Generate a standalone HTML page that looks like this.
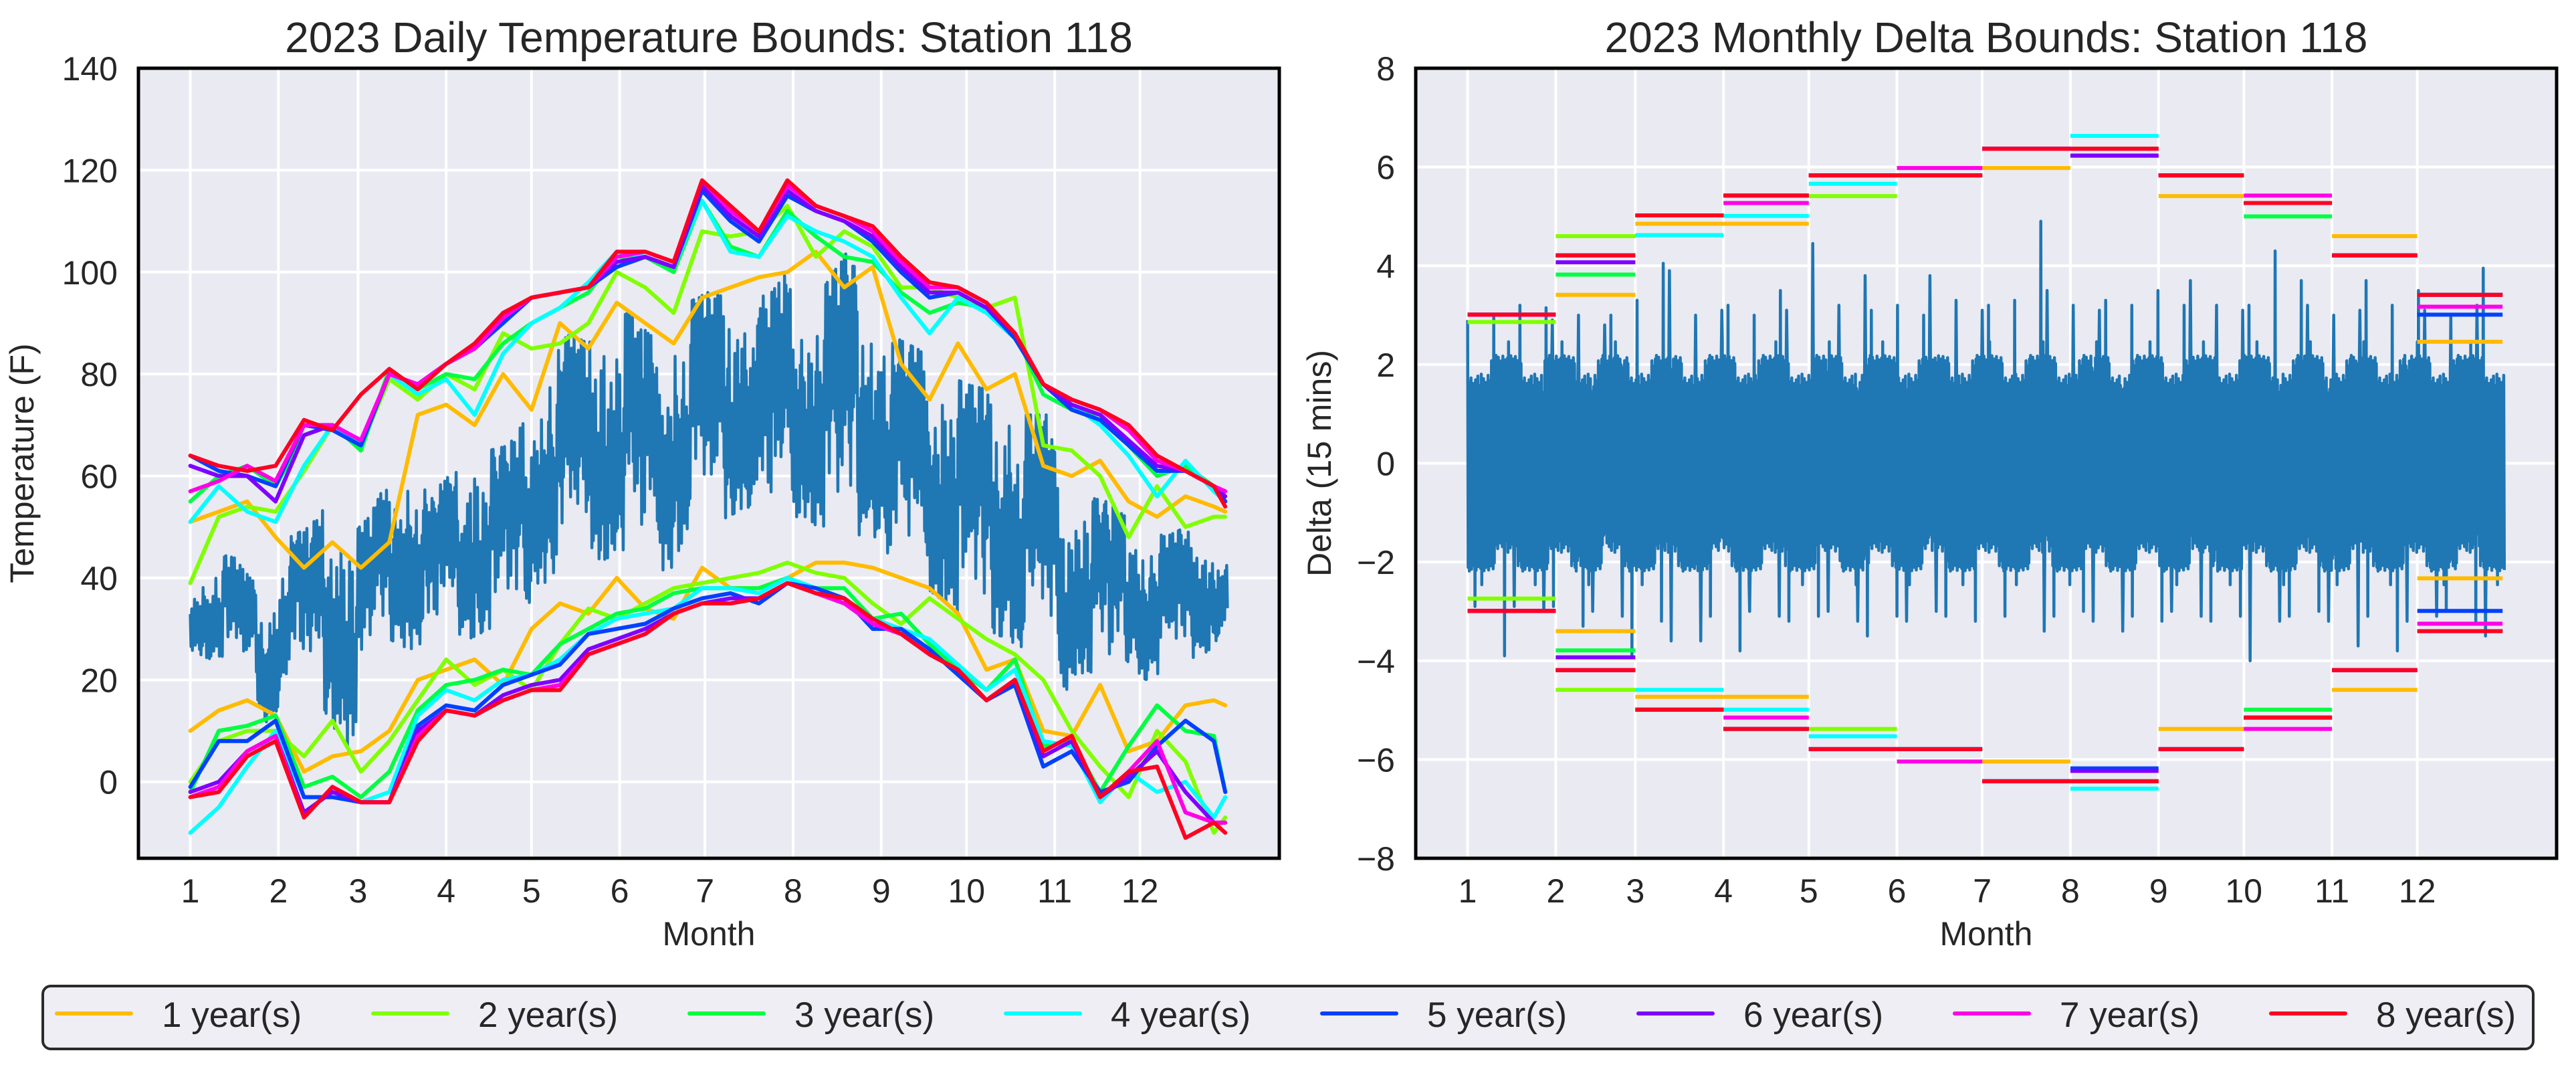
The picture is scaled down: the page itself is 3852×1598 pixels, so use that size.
<!DOCTYPE html>
<html><head><meta charset="utf-8"><title>Station 118 Bounds</title>
<style>
html,body{margin:0;padding:0;background:#fff;}
svg{display:block;font-family:"Liberation Sans",Arial,sans-serif;}
</style></head>
<body>
<svg id="fig" xmlns="http://www.w3.org/2000/svg" width="3852" height="1598" viewBox="0 0 3852 1598">
<rect x="0" y="0" width="3852" height="1598" fill="#ffffff"/>
<g id="left"></g>
<g id="right"></g>
<g id="legend"></g>
</svg>
<script>
// ---------- data ----------
const monthStartDays = [0,31,59,90,120,151,181,212,243,273,304,334];
const monthLabels = ["1","2","3","4","5","6","7","8","9","10","11","12"];
const seriesNames = ["1 year(s)","2 year(s)","3 year(s)","4 year(s)","5 year(s)","6 year(s)","7 year(s)","8 year(s)"];
const tempTicks = [0,20,40,60,80,100,120,140];
const deltaTicks = [-8,-6,-4,-2,0,2,4,6,8];
// weekly envelope of 15-min temperatures (day 0,7,...,364)
const tempHigh = [38,42,45,40,36,48,50,55,48,52,60,62,56,60,62,65,66,72,82,88,86,90,92,88,85,94,96,95,98,95,100,92,98,104,96,88,86,84,80,78,77,76,72,72,55,56,55,52,50,48,50,48,44];
const tempLow  = [26,24,25,20,10,22,20,12,6,24,28,26,27,30,28,30,32,35,40,44,42,44,46,45,40,50,50,52,54,50,52,52,48,46,50,45,42,38,35,32,30,28,26,25,18,22,20,24,20,22,24,25,30];
// bound lines sampled at days 0,10,...,360,364
const boundDays = [0,10,20,30,40,50,60,70,80,90,100,110,120,130,140,150,160,170,180,190,200,210,220,230,240,250,260,270,280,290,300,310,320,330,340,350,360,364];
const upper1 = [51,53,55,48,42,47,42,47,72,74,70,80,73,90,85,94,90,86,95,97,99,100,104,97,101,82,75,86,77,80,62,60,63,55,52,56,54,53];
const upper2 = [39,52,54,53,61,70,66,79,75,80,77,88,85,86,90,100,97,92,108,107,108,113,103,108,105,97,97,95,93,95,66,65,60,48,58,50,52,52];
const upper3 = [55,60,62,58,68,70,65,81,77,80,79,86,90,93,96,103,103,100,114,105,103,112,107,103,102,96,92,94,93,88,76,73,72,66,60,62,58,56];
const upper4 = [51,58,53,51,62,70,66,80,76,79,72,84,90,93,98,104,103,101,114,104,103,111,108,106,103,95,88,95,92,87,78,74,70,64,56,63,57,55];
const upper5 = [64,61,60,58,70,69,66,80,78,82,85,90,95,96,97,101,103,101,116,110,106,115,112,110,106,100,95,96,93,87,78,73,71,66,61,61,58,55];
const upper6 = [62,60,60,55,68,70,67,80,78,82,85,91,95,96,97,102,103,101,117,111,107,116,112,110,107,101,96,96,93,88,78,74,72,67,62,61,58,56];
const upper7 = [57,59,62,59,70,70,67,80,78,82,85,91,95,96,97,103,104,102,118,112,108,117,113,111,108,102,97,97,94,88,78,75,73,69,63,61,58,57];
const upper8 = [64,62,61,62,71,69,76,81,77,82,86,92,95,96,97,104,104,102,118,113,108,118,113,111,109,103,98,97,94,88,78,75,73,70,64,61,58,54];
const lower1 = [10,14,16,13,2,5,6,10,20,22,24,19,30,35,33,40,34,32,42,38,38,40,43,43,42,40,38,33,22,24,10,9,19,6,8,15,16,15];
const lower2 = [0,8,10,10,5,12,2,8,16,24,19,22,18,27,34,32,35,38,39,40,41,43,41,40,35,31,36,32,28,25,20,10,3,-3,10,4,-10,-7];
const lower3 = [-2,10,11,13,-1,1,-3,2,14,19,20,22,21,27,30,33,34,37,38,38,38,40,38,38,32,33,27,22,18,24,7,8,-2,7,15,10,9,-2];
const lower4 = [-10,-5,3,10,-3,-3,-4,-2,13,18,16,20,21,24,29,32,33,34,38,38,37,40,38,36,32,30,28,23,18,22,8,7,-4,2,-2,0,-7,-3];
const lower5 = [-1,8,8,12,-3,-3,-4,-4,11,15,14,19,21,23,29,30,31,34,36,37,35,39,38,36,30,30,26,21,16,19,3,6,-2,0,7,12,8,-2];
const lower6 = [-2,0,6,9,-6,-2,-4,-4,10,14,13,17,19,20,26,28,30,33,35,36,36,39,37,36,31,29,25,22,16,20,5,8,-3,1,6,-2,-8,-8];
const lower7 = [-3,-1,6,9,-7,-1,-4,-4,9,14,13,16,18,19,25,27,29,33,35,35,36,39,37,35,31,29,25,22,16,20,6,9,-3,2,8,-6,-8,-8];
const lower8 = [-3,-2,5,8,-7,-1,-4,-4,8,14,13,16,18,18,25,27,29,33,35,35,36,39,37,36,32,29,25,22,16,20,6,9,-3,2,3,-11,-8,-10];
const upperSeries = [upper1,upper2,upper3,upper4,upper5,upper6,upper7,upper8];
const lowerSeries = [lower1,lower2,lower3,lower4,lower5,lower6,lower7,lower8];
// weekly spike extremes of 15-min deltas
const deltaHigh = [2.9,3.0,3.2,3.15,2.9,3.0,2.8,3.0,3.3,4.05,3.9,3.0,3.1,3.2,3.0,3.5,3.1,4.45,3.2,3.8,3.1,3.2,3.0,3.8,3.3,3.1,3.2,3.3,4.9,3.5,3.2,3.1,3.3,3.2,3.5,3.2,3.7,3.2,3.1,3.2,4.3,3.7,3.2,3.0,3.1,3.7,3.2,3.5,3.1,3.0,3.2,3.95,2.9];
const deltaLow = [-2.9,-3.9,-2.9,-3.0,-2.9,-3.3,-3.0,-3.1,-3.9,-3.2,-3.6,-3.6,-3.1,-3.8,-3.0,-3.1,-3.2,-3.1,-3.0,-3.2,-3.5,-3.1,-3.2,-3.0,-3.1,-3.2,-3.1,-3.2,-3.4,-3.1,-3.0,-3.2,-3.4,-3.1,-3.2,-3.0,-3.1,-3.2,-3.1,-4.0,-3.2,-3.1,-3.0,-3.2,-3.7,-3.1,-3.8,-3.2,-3.1,-3.0,-3.2,-3.5,-2.8];
const deltaCore = 1.9;
// monthly delta bounds (per series, months 1..12)
const dUp8 = [3.01,4.21,5.02,5.42,5.83,5.83,6.37,6.37,5.83,5.27,4.21,3.41];
const dUp7 = [3.01,4.21,5.02,5.27,5.83,5.98,6.37,6.37,5.83,5.42,4.21,3.17];
const dUp6 = [3.01,4.07,5.02,5.42,5.83,5.83,6.37,6.23,5.83,5.27,4.21,3.41];
const dUp5 = [3.01,4.21,5.02,5.42,5.83,5.83,6.37,6.23,5.83,5.27,4.21,3.01];
const dUp4 = [3.01,4.21,4.62,5.01,5.66,5.83,6.37,6.63,5.83,5.27,4.21,3.41];
const dUp3 = [3.01,3.82,5.02,5.42,5.83,5.83,6.37,6.37,5.83,5.00,4.21,3.41];
const dUp2 = [2.86,4.60,5.02,5.42,5.41,5.83,6.37,6.37,5.83,5.27,4.21,3.41];
const dUp1 = [3.01,3.41,4.85,4.85,5.83,5.83,5.98,6.37,5.41,5.27,4.60,2.46];
const dLo8 = [-2.99,-4.19,-4.99,-5.38,-5.79,-5.79,-6.44,-6.44,-5.79,-5.15,-4.19,-3.40];
const dLo7 = [-2.99,-4.19,-4.99,-5.15,-5.79,-6.04,-6.44,-6.44,-5.79,-5.38,-4.19,-3.25];
const dLo6 = [-2.99,-3.93,-4.99,-5.38,-5.79,-5.79,-6.44,-6.23,-5.79,-5.15,-4.19,-3.40];
const dLo5 = [-2.99,-4.19,-4.99,-5.38,-5.79,-5.79,-6.44,-6.18,-5.79,-5.15,-4.19,-2.99];
const dLo4 = [-2.99,-4.19,-4.59,-4.99,-5.53,-5.79,-6.44,-6.59,-5.79,-5.15,-4.19,-3.40];
const dLo3 = [-2.99,-3.79,-4.99,-5.38,-5.79,-5.79,-6.44,-6.44,-5.79,-4.99,-4.19,-3.40];
const dLo2 = [-2.74,-4.59,-4.99,-5.38,-5.38,-5.79,-6.44,-6.44,-5.79,-5.15,-4.19,-3.40];
const dLo1 = [-2.99,-3.40,-4.73,-4.73,-5.79,-5.79,-6.04,-6.44,-5.38,-5.15,-4.59,-2.33];
const deltaUpper = [dUp1,dUp2,dUp3,dUp4,dUp5,dUp6,dUp7,dUp8];
const deltaLower = [dLo1,dLo2,dLo3,dLo4,dLo5,dLo6,dLo7,dLo8];

// ---------- style ----------
const colors = ["#ffbb00","#80ff00","#00ff40","#00ffff","#0040ff","#7f00ff","#ff00e6","#ff0022"];
const blue = "#1f77b4";
const NS = "http://www.w3.org/2000/svg";
function el(tag, attrs, parent){const e=document.createElementNS(NS,tag);for(const k in attrs)e.setAttribute(k,attrs[k]);if(parent)parent.appendChild(e);return e;}

const X0=-18.24, X1=383.0;
function makeAxes(left, right, top, bottom, y0, y1){
  const sx = d => left + (d - X0)/(X1 - X0)*(right-left);
  const sy = v => bottom - (v - y0)/(y1 - y0)*(bottom-top);
  return {sx, sy};
}
const tickFont = 50;
function drawFrame(g, L, R, T, B, ax, yticks, fmt, title, ylabel, ylabelX){
  const bg = el('rect',{x:L,y:T,width:R-L,height:B-T,fill:'#eaeaf2'},g);
  
  
  monthStartDays.forEach((d,i)=>{
    const x=ax.sx(d);
    const gl=el('line',{x1:x,x2:x,y1:T,y2:B,stroke:'#fff','stroke-width':4},g);
    
    
    const t=el('text',{x:x,y:1349,'font-size':tickFont,'text-anchor':'middle',fill:'#262626'},g);
    t.textContent=monthLabels[i];
    
    
  });
  yticks.forEach(v=>{
    const y=ax.sy(v);
    const gl=el('line',{x1:L,x2:R,y1:y,y2:y,stroke:'#fff','stroke-width':4},g);
    
    
    const t=el('text',{x:L-31,y:y+18,'font-size':tickFont,'text-anchor':'end',fill:'#262626'},g);
    t.textContent=fmt(v);
    
    
  });
  const tt=el('text',{x:(L+R)/2,y:78,'font-size':64,'text-anchor':'middle',fill:'#262626'},g);
  tt.textContent=title;
  
  
  const xl=el('text',{x:(L+R)/2,y:1413,'font-size':tickFont,'text-anchor':'middle',fill:'#262626'},g);
  xl.textContent='Month';
  
  
  const cy=(T+B)/2;
  const yl=el('text',{x:ylabelX,y:cy,'font-size':tickFont,'text-anchor':'middle',fill:'#262626',transform:`rotate(-90 ${ylabelX} ${cy})`},g);
  yl.textContent=ylabel;
  
  
}
function drawBorder(g,L,R,T,B){
  const f=el('rect',{x:L,y:T,width:R-L,height:B-T,fill:'none',stroke:'#000','stroke-width':5},g);
  
  
}
function interp(arr, step, d){
  const i=Math.min(Math.floor(d/step), arr.length-2);
  const f=Math.min(1,(d - i*step)/step);
  return arr[i]+(arr[i+1]-arr[i])*f;
}
function interpDays(days, arr, d){
  let i=0; while(i<days.length-2 && d>days[i+1]) i++;
  const f=(d-days[i])/(days[i+1]-days[i]);
  return arr[i]+(arr[i+1]-arr[i])*f;
}
// irregular drawing texture (visual style only)
const texture=[0.15,0.9,0.3,1.0,0.05,0.72,0.4,0.95,0.0,0.6,0.25,0.85,0.1,0.78,0.35,0.98,0.02,0.66,0.45,0.88,0.2,0.55,0.08,0.93,0.5,0.7,0.12,0.81,0.38,0.99,0.04,0.62,0.28,0.9,0.17,0.75,0.47,0.97,0.01,0.68,0.33,0.86,0.22,0.58,0.09,0.94,0.42];
const wobble=[0.0,0.12,-0.08,0.2,-0.15,0.05,0.18,-0.1,0.25,-0.2,0.08,-0.05,0.15,-0.18,0.1,0.22,-0.12,0.03,-0.22,0.14,0.06,-0.16,0.19,-0.03,0.11,-0.09,0.24,-0.14,0.07,-0.19,0.16];

// ---------- left chart ----------
(function(){
  const g=document.getElementById('left');
  const L=207,R=1913,T=102,B=1283;
  const ax=makeAxes(L,R,T,B,-15,140);
  drawFrame(g,L,R,T,B,ax,tempTicks,v=>String(v),'2023 Daily Temperature Bounds: Station 118','Temperature (F)',50);
  let pts=[];let k=0;
  for(let d=0; d<=364.75; d+=0.25){
    const hi=interp(tempHigh,7,d), lo=interp(tempLow,7,d);
    const span=hi-lo;
    const mid=(hi+lo)/2 + span*wobble[Math.floor(d*0.7)%wobble.length]*0.6;
    const t=texture[k%texture.length];
    let v=mid + (k%2===0?1:-1)*span*0.5*t;
    v=Math.max(lo,Math.min(hi,v));
    k++;
    pts.push(ax.sx(d).toFixed(1)+','+ax.sy(v).toFixed(1));
  }
  const p=el('polyline',{points:pts.join(' '),fill:'none',stroke:blue,'stroke-width':4.5,'stroke-linejoin':'round'},g);
  
  
  function boundPath(arr){
    let s=[];
    for(let d=0; d<=364; d+=2){ s.push(ax.sx(d).toFixed(1)+','+ax.sy(interpDays(boundDays,arr,d)).toFixed(1)); }
    return s.join(' ');
  }
  for(let i=0;i<8;i++){
    const u=el('polyline',{points:boundPath(upperSeries[i]),fill:'none',stroke:colors[i],'stroke-width':6,'stroke-linejoin':'round','stroke-linecap':'round'},g);
    
    
    const l=el('polyline',{points:boundPath(lowerSeries[i]),fill:'none',stroke:colors[i],'stroke-width':6,'stroke-linejoin':'round','stroke-linecap':'round'},g);
    
    
  }
  drawBorder(g,L,R,T,B);
})();

// ---------- right chart ----------
(function(){
  const g=document.getElementById('right');
  const L=2117,R=3823,T=102,B=1283;
  const ax=makeAxes(L,R,T,B,-8,8);
  drawFrame(g,L,R,T,B,ax,deltaTicks,v=>(v<0?'\u2212'+(-v):String(v)),'2023 Monthly Delta Bounds: Station 118','Delta (15 mins)',1990);
  let pts=[];let k=0;
  for(let d=0; d<=364.75; d+=0.2){
    const w=Math.min(Math.floor(d/7),deltaHigh.length-1);
    const pos=k%35;
    const t=texture[k%texture.length];
    const t2=texture[(k*7+3)%texture.length];
    let v;
    if(pos===(w*11)%35) v=deltaHigh[w];
    else if(pos===(w*17+13)%35) v=deltaLow[w];
    else if(t2>0.96) v=(k%2===0?1:-1)*(deltaCore+0.8*t);
    else v=(k%2===0? 1:-1)*deltaCore*(0.75+0.4*t);
    k++;
    pts.push(ax.sx(d).toFixed(1)+','+ax.sy(v).toFixed(1));
  }
  const p=el('polyline',{points:pts.join(' '),fill:'none',stroke:blue,'stroke-width':4.5,'stroke-linejoin':'round'},g);
  
  
  for(let i=0;i<8;i++){
    for(let m=0;m<12;m++){
      const x1=ax.sx(monthStartDays[m]);
      const x2=ax.sx(m<11?monthStartDays[m+1]:364);
      const yu=ax.sy(deltaUpper[i][m]), yl=ax.sy(deltaLower[i][m]);
      const a=el('line',{x1:x1,x2:x2,y1:yu,y2:yu,stroke:colors[i],'stroke-width':6},g);
      
      
      const b=el('line',{x1:x1,x2:x2,y1:yl,y2:yl,stroke:colors[i],'stroke-width':6},g);
      
      
    }
  }
  drawBorder(g,L,R,T,B);
})();

// ---------- legend ----------
(function(){
  const g=document.getElementById('legend');
  const box=el('rect',{x:64,y:1474,width:3724,height:94,rx:12,ry:12,fill:'#eeeef4',stroke:'#2a2a2a','stroke-width':4},g);
  
  
  for(let i=0;i<8;i++){
    const ox=473*i;
    const item=el('g',{},g);
    
    
    const ln=el('line',{x1:85+ox,x2:196+ox,y1:1515,y2:1515,stroke:colors[i],'stroke-width':6,'stroke-linecap':'round'},item);
    
    
    const t=el('text',{x:242+ox,y:1535,'font-size':53,fill:'#262626'},item);
    t.textContent=seriesNames[i];
    
    
  }
})();
</script>
</body></html>
